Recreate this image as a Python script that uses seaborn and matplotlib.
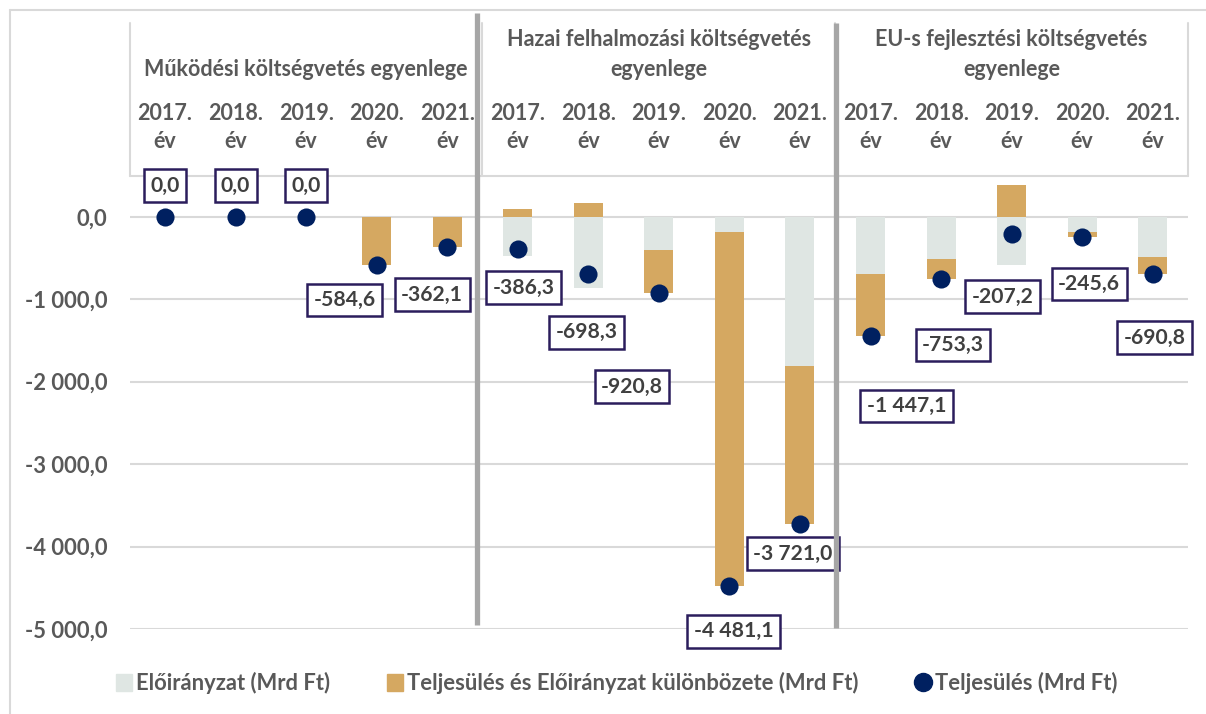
import matplotlib
matplotlib.use("Agg")
import matplotlib.pyplot as plt
from matplotlib.lines import Line2D
from matplotlib.patches import Patch
import numpy as np
import pandas as pd
import seaborn as sns

sns.set_theme(style="white")
plt.rcParams["font.family"] = ["Lato", "DejaVu Sans"]
plt.rcParams["font.weight"] = "bold"

# --- data ---------------------------------------------------------------
groups = [
    ["Működési költségvetés egyenlege"],
    ["Hazai felhalmozási költségvetés", "egyenlege"],
    ["EU-s fejlesztési költségvetés", "egyenlege"],
]
years = ["2017.", "2018.", "2019.", "2020.", "2021."]

# Előirányzat (Mrd Ft), per group, 2017-2021
eloiranyzat_mukodesi = [0.0, 0.0, 0.0, 0.0, 0.0]
eloiranyzat_hazai = [-475.0, -859.0, -406.0, -184.0, -1812.0]
eloiranyzat_eu = [-700.0, -511.0, -590.0, -185.0, -490.0]

# Teljesülés (Mrd Ft)
teljesules_mukodesi = [0.0, 0.0, 0.0, -584.6, -362.1]
teljesules_hazai = [-386.3, -698.3, -920.8, -4481.1, -3721.0]
teljesules_eu = [-1447.1, -753.3, -207.2, -245.6, -690.8]

eloiranyzat = np.array(eloiranyzat_mukodesi + eloiranyzat_hazai + eloiranyzat_eu)
teljesules = np.array(teljesules_mukodesi + teljesules_hazai + teljesules_eu)
kulonbozet = teljesules - eloiranyzat

# label offsets in pixels (dx, dy) from each dot
label_offsets = [
    (0, 31), (0, 31), (0, 31), (-32, -35), (-15, -48),
    (6, -39), (-2, -58), (-27, -94), (4, -45), (-7, -30),
    (36, -70), (12, -66), (-9, -63), (7, -47), (2, -64),
]

c_grey = "#dfe6e3"
c_tan = "#d5a861"
c_navy = "#002060"
c_text = "#595959"
c_grid = "#d9d9d9"

n = len(teljesules)
pos = np.arange(n)
# tan bar: positive differences start at 0, negative ones run to teljesülés
tan_extent = np.where(kulonbozet > 0, kulonbozet, teljesules)
df = pd.DataFrame({"pos": pos, "elo": eloiranyzat, "tan": tan_extent, "telj": teljesules})

fig = plt.figure(figsize=(12.06, 7.14), dpi=100)
ax = fig.add_axes([129.7 / 1206, 1 - 629 / 714, (1188 - 129.7) / 1206, (629 - 175.5) / 714])

sns.barplot(data=df, x="pos", y="tan", color=c_tan, width=0.41, saturation=1,
            ax=ax, zorder=2, linewidth=0)
sns.barplot(data=df, x="pos", y="elo", color=c_grey, width=0.41, saturation=1,
            ax=ax, zorder=2, linewidth=0)
sns.scatterplot(data=df, x="pos", y="telj", color=c_navy, s=170, linewidth=0,
                ax=ax, zorder=4)

ax.set_xlim(-0.5, n - 0.5)
ax.set_ylim(-5000, 500)
ax.set_yticks(np.arange(-5000, 1, 1000))


def fmt(v):
    s = f"{abs(v):,.1f}".replace(",", " ").replace(".", ",")
    return ("-" if v < -0.05 else "") + s


ax.set_yticklabels([fmt(v) for v in ax.get_yticks()], fontsize=15.8,
                   color=c_text, fontweight="bold")
ax.tick_params(axis="y", length=0, pad=16)
ax.set_xticks([])
ax.set_xlabel("")
ax.set_ylabel("")
for s in ax.spines.values():
    s.set_visible(False)
ax.yaxis.grid(True, color=c_grid, linewidth=1.5, zorder=0)
ax.set_axisbelow(True)
ax.axhline(500, color=c_grid, linewidth=1.5, clip_on=False, zorder=0)

# data labels
for i, v in enumerate(teljesules):
    dx, dy = label_offsets[i]
    ax.annotate(fmt(v), xy=(i, v), xytext=(dx, dy), textcoords="offset pixels",
                ha="center", va="center", fontsize=15.2, fontweight="bold",
                color="#404040", zorder=5, annotation_clip=False,
                bbox=dict(boxstyle="square,pad=0.3", fc="white",
                          ec="#2b1d5c", lw=1.8))


def ay(py):
    return (629 - py) / (629 - 175.5)


tr = ax.get_xaxis_transform()
# category header
for g, lines in enumerate(groups):
    cx = g * 5 + 2
    ys = [69] if len(lines) == 1 else [40, 69]
    for line, py in zip(lines, ys):
        ax.text(cx, ay(py), line, transform=tr, ha="center", va="center",
                fontsize=15.5, color=c_text, fontweight="bold", clip_on=False)
    for k, yr in enumerate(years):
        ax.text(g * 5 + k, ay(113), yr, transform=tr, ha="center", va="center",
                fontsize=15.5, color=c_text, fontweight="bold", clip_on=False)
        ax.text(g * 5 + k, ay(142), "év", transform=tr, ha="center", va="center",
                fontsize=15.5, color=c_text, fontweight="bold", clip_on=False)
for xb in [-0.5, 4.5, 9.5, 14.5]:
    ax.plot([xb, xb], [1, ay(23)], transform=tr, color=c_grid, lw=1.5,
            clip_on=False, zorder=1)

# thick group separators
ax.plot([4.42, 4.42], [ay(625), ay(13)], transform=tr, color="#a6a6a6",
        lw=3.8, clip_on=False, zorder=6, solid_capstyle="butt")
ax.plot([9.51, 9.51], [ay(628), ay(23)], transform=tr, color="#a6a6a6",
        lw=3.8, clip_on=False, zorder=6, solid_capstyle="butt")

# outer frame (left and top)
fig.add_artist(Line2D([10 / 1206, 10 / 1206], [0, 1 - 10 / 714], color=c_grid,
                      lw=1.5, transform=fig.transFigure))
fig.add_artist(Line2D([10 / 1206, 1], [1 - 10 / 714, 1 - 10 / 714], color=c_grid,
                      lw=1.5, transform=fig.transFigure))

handles = [
    Patch(color=c_grey, label="Előirányzat (Mrd Ft)"),
    Patch(color=c_tan, label="Teljesülés és Előirányzat különbözete (Mrd Ft)"),
    Line2D([], [], marker="o", color=c_navy, linestyle="none", markersize=13,
           label="Teljesülés (Mrd Ft)"),
]
leg = fig.legend(handles=handles, loc="center", ncol=3, frameon=False,
                 bbox_to_anchor=(617 / 1206, 1 - 683 / 714),
                 prop=dict(size=15.8, weight="bold"), handlelength=0.7,
                 handleheight=0.8, handletextpad=0.2, columnspacing=2.6)
for t in leg.get_texts():
    t.set_color(c_text)

fig.savefig("out.png", dpi=100, facecolor="white")
